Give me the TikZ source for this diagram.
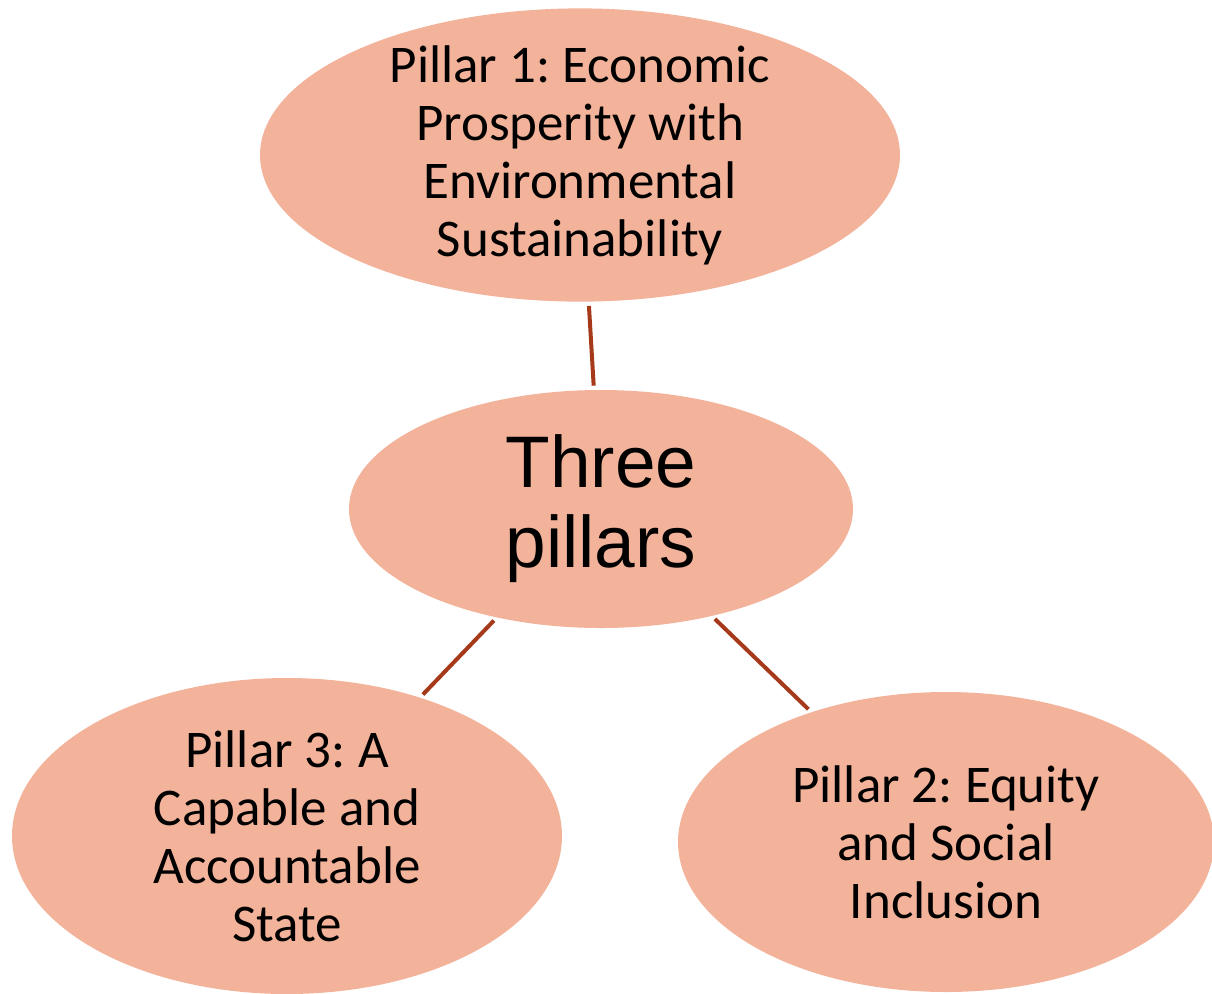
\documentclass[tikz,border=0pt]{standalone}
\usepackage{fontspec}
\setmainfont{Carlito}
\newfontfamily\hubfont{Liberation Sans}
\usetikzlibrary{shapes.geometric}
\frenchspacing

\definecolor{pillarfill}{HTML}{F3B39B}
\definecolor{linkline}{HTML}{A5391A}

\tikzset{
  pillar/.style={ellipse, fill=pillarfill, inner sep=0pt, align=center,
    font=\fontsize{26.5}{29}\selectfont},
  link/.style={draw=linkline, line width=2pt, shorten >=2pt, shorten <=2pt}
}

\begin{document}
\begin{tikzpicture}[x=0.5pt,y=-0.5pt]

                \useasboundingbox (0,0) rectangle (1212,993);
                \clip (0,0) rectangle (1212,993);

                % centre ellipse
                \node[pillar, minimum width=252pt, minimum height=119pt,
                  font=\hubfont\fontsize{36.5}{40}\selectfont] (hub) at (601,509) {Three\\pillars};

                % the three pillars
                \node[pillar, inner ysep=-3pt, minimum width=320pt, minimum height=144pt] (pillar1) at (580,155)
                  {Pillar 1: Economic\\Prosperity with\\Environmental\\Sustainability};
                \node[pillar, minimum width=268pt, minimum height=150pt] (pillar2) at (946,842)
                  {Pillar 2: Equity\\and Social\\Inclusion};
                \node[pillar, minimum width=275pt, minimum height=158pt] (pillar3) at (287,836)
                  {Pillar 3: A\\Capable and\\Accountable\\State};

                % links
                \draw[link] (pillar1) -- (hub);
                \draw[link] (hub) -- (pillar3);
                \draw[link] (hub) -- (pillar2);

\end{tikzpicture}
\end{document}
